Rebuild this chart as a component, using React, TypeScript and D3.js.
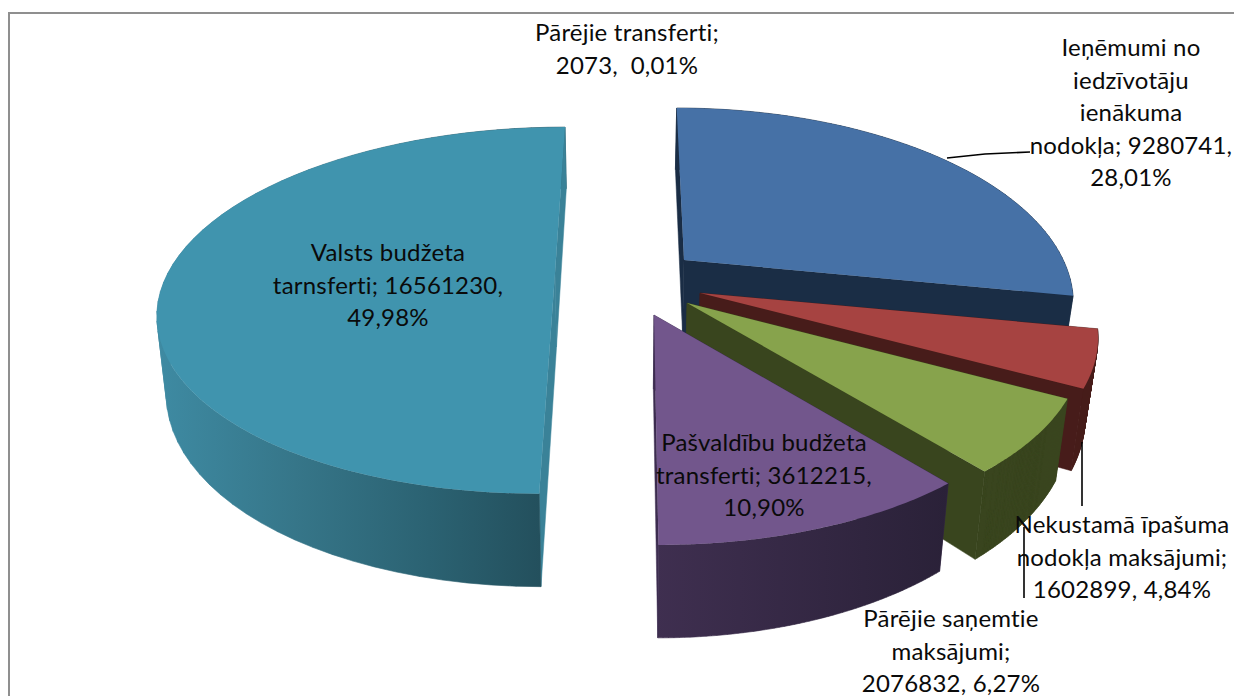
import React from "react";
import * as d3 from "d3";

// budget income structure
const categories = [
  "Ieņēmumi no iedzīvotāju ienākuma nodokļa",
  "Nekustamā īpašuma nodokļa maksājumi",
  "Pārējie saņemtie maksājumi",
  "Pašvaldību budžeta transferti",
  "Valsts budžeta tarnsferti",
  "Pārējie transferti",
];
const values = [9280741, 1602899, 2076832, 3612215, 16561230, 2073];

const topColors = ["#4671a6", "#a64341", "#87a34c", "#72568c", "#4094ae", "#4094ae"];
const wallColors = ["#1a2d45", "#471c1a", "#39451e", "#3d2d50", "#3a8298", "#3a8298"];

// wrapped label text, same order as categories
const labelLines = [
  ["Ieņēmumi no", "iedzīvotāju", "ienākuma", "nodokļa; 9280741,", "28,01%"],
  ["Nekustamā īpašuma", "nodokļa maksājumi;", "1602899, 4,84%"],
  ["Pārējie saņemtie", "maksājumi;", "2076832, 6,27%"],
  ["Pašvaldību budžeta", "transferti; 3612215,", "10,90%"],
  ["Valsts budžeta", "tarnsferti; 16561230,", "49,98%"],
  ["Pārējie transferti;", "2073,  0,01%"],
];
const labelAnchors = [
  [1131, 48],
  [1122, 525],
  [951, 619],
  [764, 443],
  [388, 253],
  [627, 33],
];

// exploded slice tips and per slice radius tweaks (fitted to the picture)
const tipX = [684, 700, 687, 654, 555, 555];
const tipY = [260, 293, 303, 315, 273, 273];
const radiusXScale = [0.97, 0.99, 0.985, 0.99, 0.99, 0.99];
const radiusYScale = [1, 1, 1, 1, 0.96, 0.96];

const width = 1234;
const height = 696;
const radiusX = 391;
const radiusY = 183;
const perspective = 0.204;
const vanishX = 630;
const tilt = 0.8;
const depth = 74;
const nadirShiftLeft = 0.02;
const nadirShiftRight = 0.027;

const pieAngles = d3
  .pie<number>()
  .sort(null)
  .value((d) => d)(values);

type Pt = [number, number];

function topPoint(i: number, angle: number): Pt {
  const back = -Math.cos(angle);
  const s = 1 / (1 - perspective * back);
  return [
    tipX[i] + radiusX * radiusXScale[i] * Math.sin(angle) * s + (tipX[i] - vanishX) * (s - 1) * tilt,
    tipY[i] + radiusY * radiusYScale[i] * back * s,
  ];
}

function dropPoint(p: Pt, angle: number | null): Pt {
  const back = angle === null ? 0 : -Math.cos(angle);
  const s = 1 / (1 - perspective * back);
  const shift = p[0] > vanishX ? nadirShiftRight : nadirShiftLeft;
  return [p[0] + (vanishX - p[0]) * shift, p[1] + depth * s];
}

const line = d3.line<Pt>().curve(d3.curveLinear);

function slicePaths(i: number) {
  const { startAngle, endAngle } = pieAngles[i];
  const steps = d3.range(0, 61).map((k) => startAngle + ((endAngle - startAngle) * k) / 60);
  const arcTop = steps.map((a) => topPoint(i, a));
  const arcBottom = steps.map((a, k) => dropPoint(arcTop[k], a));
  const tip: Pt = [tipX[i], tipY[i]];
  const tipBottom = dropPoint(tip, null);
  const radial = (k: number) =>
    line([tip, arcTop[k], arcBottom[k], tipBottom]) + "Z";
  // the rim folds over at the sides, so every quad gets the same winding
  const rim = d3
    .range(0, 60)
    .map((k) => {
      const quad: Pt[] = [arcTop[k], arcTop[k + 1], arcBottom[k + 1], arcBottom[k]];
      if (d3.polygonArea(quad) < 0) quad.reverse();
      return line(quad) + "Z";
    })
    .join("");
  return {
    top: line([tip, ...arcTop]) + "Z",
    rim,
    radialStart: radial(0),
    radialEnd: radial(60),
  };
}

// back to front
const drawOrder = [4, 0, 1, 2, 3];

export default function App() {
  return (
    <svg
      width={width}
      height={height}
      style={{ position: "absolute", left: 0, top: 0, background: "#fff" }}
      fontFamily="Lato, 'Open Sans', sans-serif"
    >
      <defs>
        <linearGradient id="tealWall" gradientUnits="userSpaceOnUse" x1={160} y1={0} x2={545} y2={0}>
          <stop offset="0%" stopColor="#3e8aa2" />
          <stop offset="35%" stopColor="#367689" />
          <stop offset="70%" stopColor="#2b6272" />
          <stop offset="100%" stopColor="#234f5c" />
        </linearGradient>
        <linearGradient id="purpleWall" gradientUnits="userSpaceOnUse" x1={655} y1={0} x2={948} y2={0}>
          <stop offset="0%" stopColor="#3f2f50" />
          <stop offset="100%" stopColor="#2a2138" />
        </linearGradient>
      </defs>
      <path
        d={`M9,${height}V13H${width}`}
        fill="none"
        stroke="#8f8f8f"
        strokeWidth={2}
      />
      {drawOrder.map((i) => {
        const p = slicePaths(i);
        const rimFill = i === 4 ? "url(#tealWall)" : i === 3 ? "url(#purpleWall)" : wallColors[i];
        return (
          <g key={categories[i]}>
            <path d={p.radialStart} fill={wallColors[i]} stroke={wallColors[i]} strokeWidth={0.5} />
            <path d={p.rim} fill={rimFill} stroke={rimFill} strokeWidth={0.6} />
            <path d={p.radialEnd} fill={wallColors[i]} stroke={wallColors[i]} strokeWidth={0.5} />
            <path d={p.top} fill={topColors[i]} />
          </g>
        );
      })}
      <g stroke="#000" strokeWidth={1.6} fill="none">
        <path d="M947,158L985,154L1030,152" />
        <path d="M1082,442V506" />
        <path d="M1024,527V598" />
      </g>
      {labelLines.map((lines, i) => (
        <text
          key={categories[i]}
          textAnchor="middle"
          fontSize={24}
          letterSpacing={0.2}
          fill="#0a0a0a"
          style={{ whiteSpace: "pre", fontVariantLigatures: "none" }}
        >
          {lines.map((l, k) => (
            <tspan key={k} x={labelAnchors[i][0]} y={labelAnchors[i][1] + 8 + k * 32.5}>
              {l}
            </tspan>
          ))}
        </text>
      ))}
    </svg>
  );
}
